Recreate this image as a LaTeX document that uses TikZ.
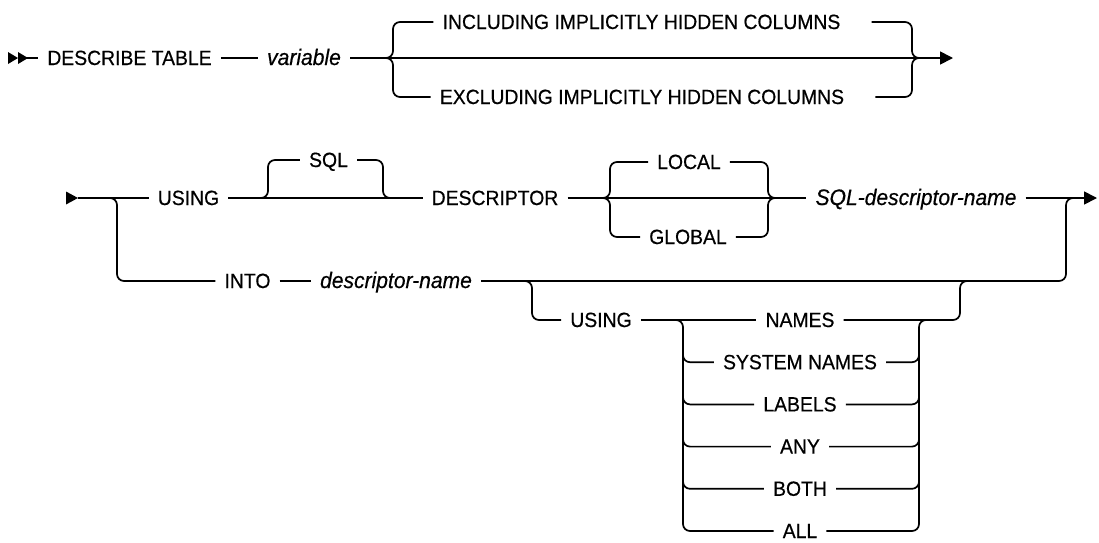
\documentclass[tikz,border=0pt]{standalone}
\usepackage{fontspec}
\setmainfont{Liberation Sans}[FakeStretch=0.94,FakeBold=0.5]
\usetikzlibrary{calc,arrows.meta}
\begin{document}
\begin{tikzpicture}[x=1pt,y=-1pt,
  rail/.style={line width=1.7pt, rounded corners=7pt},
  kw/.style={inner xsep=9pt, inner ysep=0pt, text height=14pt, text depth=0pt, font=\fontsize{20.6}{23}\selectfont},
  var/.style={kw, font=\fontsize{22.4}{25}\selectfont\itshape},
  endtip/.style={-{Triangle[length=13pt,width=13pt]}}
]
\useasboundingbox (0,0) rectangle (1099,542);

% ---------- row 1 ----------
\fill (8,52) -- (18,58) -- (8,64) -- cycle;
\fill (18,52) -- (28,58) -- (18,64) -- cycle;
\coordinate (s1) at (18,58);
\coordinate (e1) at (953,58);
\node[kw] (describe) at (129.5,58) {DESCRIBE TABLE};
\node[var] (variable) at (304,58) {variable};
\node[kw] (incl) at (641.5,22) {INCLUDING IMPLICITLY HIDDEN COLUMNS};
\node[kw] (excl) at (642,97) {EXCLUDING IMPLICITLY HIDDEN COLUMNS};
\coordinate (b1l) at (393,58);
\coordinate (b1r) at (912,58);

\draw[rail] (s1) -- (describe.west);
\draw[rail] (describe.east) -- (variable.west);
\draw[rail,endtip] (variable.east) -- (e1);
\draw[rail] ([xshift=-10pt]b1l) -| (b1l |- incl) -- (incl.west);
\draw[rail] ([xshift=-10pt]b1l) -| (b1l |- excl) -- (excl.west);
\draw[rail] ([xshift=22pt]incl.east) -| (b1r) -- ([xshift=10pt]b1r);
\draw[rail] ([xshift=22pt]excl.east) -| (b1r) -- ([xshift=10pt]b1r);

% ---------- row 2 ----------
\fill (66,191.5) -- (78,198) -- (66,204.5) -- cycle;
\coordinate (s2) at (78,198);
\coordinate (e2) at (1097,198);
\node[kw] (using1) at (188.5,198) {USING};
\node[kw] (sql) at (328.5,160) {SQL};
\node[kw] (descr) at (495,198) {DESCRIPTOR};
\node[kw] (local) at (689,162) {LOCAL};
\node[kw] (global) at (688,237) {GLOBAL};
\node[var] (sqldn) at (916,198) {SQL-descriptor-name};
\node[kw] (into) at (247.5,281) {INTO};
\node[var] (dn) at (396,281) {descriptor-name};
\node[kw] (using2) at (601,320) {USING};
\node[kw] (names) at (800,320) {NAMES};
\node[kw] (sys) at (800,362.2) {SYSTEM NAMES};
\node[kw] (labels) at (800,404.4) {LABELS};
\node[kw] (any) at (800,446.6) {ANY};
\node[kw] (both) at (800,488.8) {BOTH};
\node[kw] (all) at (800,531) {ALL};

\coordinate (b2a) at (117,198);
\coordinate (b3l) at (268,198);
\coordinate (b3r) at (383,198);
\coordinate (b4l) at (610,198);
\coordinate (b4r) at (768,198);
\coordinate (b5r) at (1066,198);
\coordinate (b6l) at (532,281);
\coordinate (b6r) at (960,281);
\coordinate (cl) at (683,320);
\coordinate (cr) at (919,320);

\draw[rail] (s2) -- (using1.west);
\draw[rail] ([xshift=-12pt]b2a) -| (b2a |- into) -- (into.west);
\draw[rail] (using1.east) -- (descr.west);
\draw[rail] ([xshift=-10pt]b3l) -| (b3l |- sql) -- (sql.west);
\draw[rail] (sql.east) -| (b3r) -- ([xshift=10pt]b3r);
\draw[rail] (descr.east) -- (sqldn.west);
\draw[rail] ([xshift=-10pt]b4l) -| (b4l |- local) -- (local.west);
\draw[rail] ([xshift=-10pt]b4l) -| (b4l |- global) -- (global.west);
\draw[rail] (local.east) -| (b4r) -- ([xshift=10pt]b4r);
\draw[rail] (global.east) -| (b4r) -- ([xshift=10pt]b4r);
\draw[rail,endtip] (sqldn.east) -- (e2);

\draw[rail] (into.east) -- (dn.west);
\draw[rail] (dn.east) -| (b5r) -- ([xshift=10pt]b5r);
\draw[rail] ([xshift=-12pt]b6l) -| (b6l |- using2) -- (using2.west);
\draw[rail] (using2.east) -- (names.west);
\draw[rail] (names.east) -| (b6r) -- ([xshift=10pt]b6r);

\draw[rail] ([xshift=-8pt]cl) -| (cl |- all) -- (all.west);
\draw[rail] (all.east) -| (cr) -- ([xshift=8pt]cr);
\foreach \n in {sys,labels,any,both} {
  \draw[rail] ($(cl |- \n)+(0,-15)$) |- (\n.west);
  \draw[rail] (\n.east) -| ($(cr |- \n)+(0,-15)$);
}
\end{tikzpicture}
\end{document}
